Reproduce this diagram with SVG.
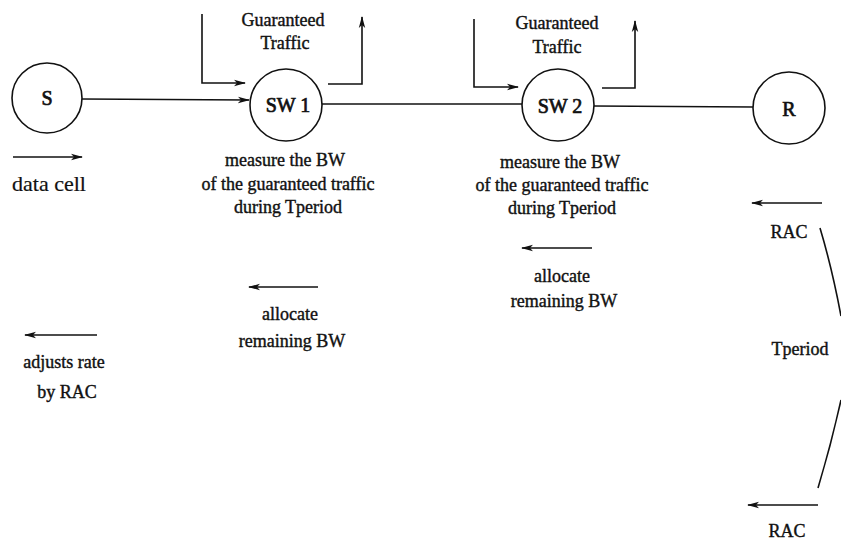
<svg xmlns="http://www.w3.org/2000/svg" width="841" height="540" viewBox="0 0 841 540">
<style>
text{font-family:"Liberation Serif","Times New Roman",serif;font-size:18px;fill:#111;text-anchor:middle;stroke:#111;stroke-width:0.4}
.node circle{fill:#fff;stroke:#111;stroke-width:1.6}
.lbl{font-size:20px;stroke-width:0.7}
.ln{fill:none;stroke:#111;stroke-width:1.6}
.big{font-size:22px;text-anchor:start;stroke-width:0.2}
</style>
<defs>
<marker id="ah" viewBox="0 0 12 8" refX="11" refY="4" markerWidth="12" markerHeight="8" markerUnits="userSpaceOnUse" orient="auto">
<path d="M0,0.8 L12,4 L0,7.2 L3,4 z" fill="#111"/>
</marker>
</defs>
<g id="connectors">
<path class="ln" d="M82,99 L249,100" marker-end="url(#ah)"/>
<path class="ln" d="M322,104 L522,104"/>
<path class="ln" d="M594,106 L753,107"/>
<path class="ln" d="M202,14 V83 H245" marker-end="url(#ah)"/>
<path class="ln" d="M328,84 H362 V17" marker-end="url(#ah)"/>
<path class="ln" d="M474,19 V87 H518" marker-end="url(#ah)"/>
<path class="ln" d="M602,88 H635 V21" marker-end="url(#ah)"/>
<path class="ln" d="M13,157 H82" marker-end="url(#ah)"/>
<path class="ln" d="M97,335 H25" marker-end="url(#ah)"/>
<path class="ln" d="M318,287 H249" marker-end="url(#ah)"/>
<path class="ln" d="M592,248 H522" marker-end="url(#ah)"/>
<path class="ln" d="M822,203 H752" marker-end="url(#ah)"/>
<path class="ln" d="M818,505 H748" marker-end="url(#ah)"/>
<path class="ln" d="M820,228 Q832,268 841,316"/>
<path class="ln" d="M841,400 Q831,445 818,488"/>
</g>
<g id="S" class="node"><circle cx="47" cy="98" r="35"/><text class="lbl" x="47" y="105">S</text></g>
<g id="SW1" class="node"><circle cx="286" cy="105" r="36"/><text class="lbl" x="288" y="112">SW 1</text></g>
<g id="SW2" class="node"><circle cx="558" cy="105" r="36"/><text class="lbl" x="560" y="113">SW 2</text></g>
<g id="R" class="node"><circle cx="789" cy="108" r="36"/><text class="lbl" x="789" y="116">R</text></g>
<g id="labels">
<text x="283" y="26">Guaranteed</text>
<text x="285" y="49">Traffic</text>
<text x="557" y="29">Guaranteed</text>
<text x="557" y="53">Traffic</text>
<text x="285" y="166">measure the BW</text>
<text x="288" y="190">of the guaranteed traffic</text>
<text x="288" y="213">during Tperiod</text>
<text x="560" y="168">measure the BW</text>
<text x="562" y="191">of the guaranteed traffic</text>
<text x="562" y="214">during Tperiod</text>
<text class="big" x="12" y="191">data cell</text>
<text x="290" y="320">allocate</text>
<text x="292" y="347">remaining BW</text>
<text x="562" y="282">allocate</text>
<text x="564" y="307">remaining BW</text>
<text x="64" y="368">adjusts rate</text>
<text x="67" y="398">by RAC</text>
<text x="789" y="238">RAC</text>
<text x="800" y="355">Tperiod</text>
<text x="787" y="537">RAC</text>
</g>
</svg>
